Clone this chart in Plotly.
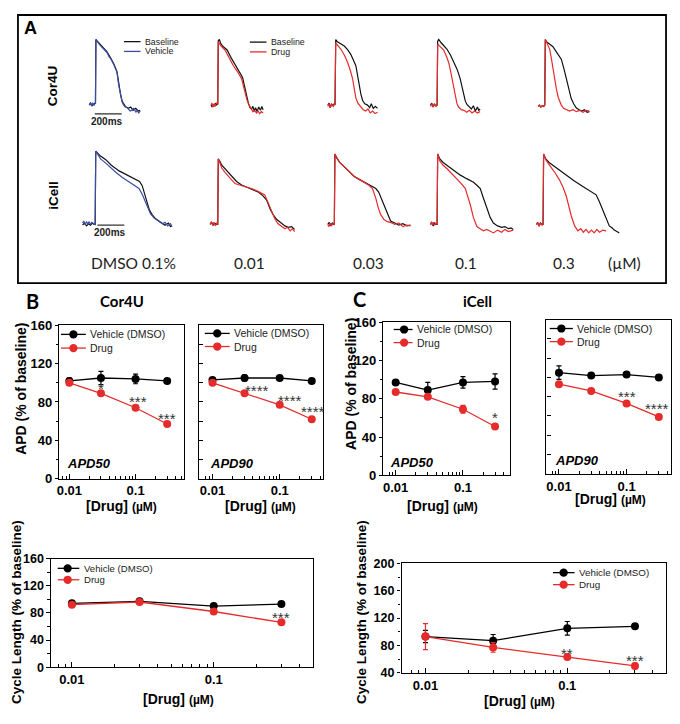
import math
import plotly.graph_objects as go

W, H = 680, 724
OFF = 8                     # page body margin of the html page
FW, FH = W - 2 * OFF, H - 2 * OFF
def px(x): return min(max((x - OFF) / FW, 0), 1)
def py(y): return min(max(1 - (y - OFF) / FH, 0), 1)

ARIAL = "Liberation Sans, Arial, sans-serif"
CAL = "Lato, Carlito, Calibri, sans-serif"
RED = "#e52b2b"
BLUE = "#3a4da3"
BLACK = "#111111"

# ---------------- data: summary panels ----------------
conc = [0.01, 0.03, 0.1, 0.3]

b50_veh = [102, 105, 104, 102]; b50_veh_err = [3, 7, 5, 2]
b50_drug = [100, 89, 74, 57];   b50_drug_err = [2, 2, 2, 2]
b90_veh = [103, 105, 105, 102]; b90_veh_err = [2, 3, 2, 2]
b90_drug = [100, 89, 77, 62];   b90_drug_err = [2, 2, 2, 2]
c50_veh = [97, 89, 97, 98];     c50_veh_err = [2, 8, 6, 8]
c50_drug = [87, 82, 69, 51];    c50_drug_err = [2, 2, 4, 2]
c90_veh = [105, 102, 103, 100]; c90_veh_err = [7, 2, 2, 2]
c90_drug = [93, 86, 73, 59];    c90_drug_err = [2, 2, 2, 2]
bcl_veh = [94, 97, 90, 93];     bcl_veh_err = [2, 2, 2, 2]
bcl_drug = [92, 96, 82, 66];    bcl_drug_err = [2, 2, 2, 2]
ccl_veh = [93, 87, 105, 108];   ccl_veh_err = [9, 9, 10, 3]
ccl_drug = [93, 77, 63, 50];    ccl_drug_err = [19, 7, 3, 4]

# significance marks: (concentration, y value, text)
b50_stars = [(0.03, 97, "*"), (0.1, 84, "***"), (0.3, 66, "***")]
b90_stars = [(0.03, 95, "****"), (0.1, 85, "****"), (0.3, 73, "****")]
c50_stars = [(0.3, 63, "*")]
c90_stars = [(0.1, 83, "***"), (0.3, 71, "****")]
bcl_stars = [(0.3, 77, "***")]
ccl_stars = [(0.1, 73, "**"), (0.3, 63, "***")]

# ---------------- data: action potential traces (ms, % amplitude) ----------------
cor_dmso_base = [(-46,0),(-36,3),(-26,-1),(-14,2),(-3,3),(0,3),(3,100),(12,98),(40,91),(86,81),(115,71),(136,63),(160,51),(173,31),(186,17),(198,6),(222,-2),(245,-5),(262,-3),(280,-8),(300,-5),(318,-9),(333,-8)]
cor_dmso_veh = [(-46,0),(-38,4),(-30,-1),(-20,3),(-10,0),(-2,4),(0,4),(3,100),(12,97),(40,90),(60,86),(86,80),(100,74),(115,70),(136,62),(160,50),(173,30),(186,16),(198,5),(210,0),(222,-3),(235,-4),(245,-6),(258,-9),(271,-8),(282,-5),(290,-6),(300,-11),(310,-8),(322,-12),(333,-9)]
cor_001_base = [(-50,0),(-42,-3),(-35,1),(-27,-2),(-18,3),(-8,0),(0,2),(4,98),(12,100),(20,95),(35,90),(70,84),(100,72),(130,62),(160,52),(185,42),(198,30),(212,15),(228,3),(240,-4),(251,-6),(262,-2),(272,-9),(282,-4),(292,-10),(305,-3),(318,-8),(328,-2),(338,-7)]
cor_001_drug = [(-50,0),(-43,3),(-36,-3),(-28,2),(-20,-2),(-10,3),(0,2),(4,97),(12,94),(25,90),(54,84),(85,72),(116,60),(150,50),(178,40),(192,28),(202,20),(220,6),(239,-2),(250,-7),(262,-10),(276,-9),(290,-12),(300,-9),(312,-13),(325,-10),(338,-12)]
cor_003_base = [(-54,0),(-44,3),(-36,-4),(-26,2),(-15,-1),(-5,2),(0,0),(5,100),(15,97),(35,94),(69,90),(95,84),(118,77),(138,68),(155,60),(168,45),(180,30),(192,17),(205,7),(222,2),(242,0),(258,-4),(270,2),(285,-5),(300,-2),(316,-5)]
cor_003_drug = [(-54,-2),(-45,2),(-36,-4),(-25,1),(-12,-2),(-5,2),(0,0),(5,95),(15,92),(44,85),(70,76),(94,65),(115,52),(131,40),(143,25),(155,11),(170,3),(192,-3),(210,-7),(228,-9),(245,-6),(262,-12),(280,-9),(298,-13),(316,-11)]
cor_01_base = [(-49,0),(-40,3),(-30,-3),(-20,2),(-10,-1),(0,0),(4,97),(12,100),(30,95),(50,91),(74,85),(100,76),(123,67),(150,54),(172,40),(185,27),(197,15),(210,6),(222,1),(240,-3),(255,-6),(270,-1),(285,-9),(300,-3),(310,-8),(320,-6)]
cor_01_drug = [(-49,-2),(-40,2),(-30,-3),(-18,1),(-8,-2),(0,0),(4,93),(15,91),(30,88),(49,84),(70,74),(86,65),(100,52),(111,40),(123,24),(135,10),(148,2),(160,-3),(180,-7),(200,-8),(220,-11),(240,-8),(260,-12),(280,-9),(300,-12),(320,-10)]
cor_03_base = [(-49,-2),(-40,0),(-30,-3),(-18,-1),(-8,-2),(0,0),(4,100),(15,96),(35,93),(61,89),(90,80),(123,70),(142,56),(160,40),(178,24),(197,10),(215,2),(234,-4),(255,-7),(275,-9),(295,-7),(315,-11),(333,-10)]
cor_03_drug = [(-49,-2),(-40,0),(-30,-3),(-18,-1),(-8,-2),(0,0),(4,100),(15,94),(37,85),(50,70),(61,55),(73,40),(86,25),(100,12),(112,4),(123,0),(140,-5),(160,-7),(185,-9),(210,-7),(235,-10),(260,-8),(285,-11),(310,-8),(333,-9)]

ic_dmso_base = [(-94,-1),(-80,2),(-65,-2),(-50,1),(-35,-1),(-20,2),(-8,0),(0,0),(4,104),(20,101),(40,97),(79,92),(120,84),(178,76),(240,70),(301,65),(330,61),(350,55),(365,44),(387,31),(405,20),(424,14),(450,8),(474,5),(498,3),(520,-1),(545,2),(560,-3),(572,-2)]
ic_dmso_veh = [(-94,2),(-85,5),(-75,0),(-65,4),(-55,1),(-45,4),(-35,0),(-25,3),(-12,1),(0,0),(4,104),(15,100),(40,93),(79,87),(115,80),(153,74),(200,67),(252,60),(290,56),(326,51),(350,43),(375,32),(395,22),(412,15),(440,9),(474,4),(500,1),(520,3),(540,-2),(560,1),(572,-3)]
ic_001_base = [(-57,0),(-45,3),(-35,-1),(-22,2),(-10,0),(0,0),(4,93),(15,90),(30,84),(54,79),(100,68),(140,61),(178,56),(240,51),(301,46),(335,41),(363,35),(390,22),(412,14),(440,7),(474,2),(500,-2),(525,-4),(550,-3),(572,-7)]
ic_001_drug = [(-57,0),(-48,4),(-38,-1),(-28,3),(-18,-2),(-8,2),(0,0),(4,93),(15,88),(30,80),(54,74),(90,66),(128,58),(180,55),(252,51),(300,47),(350,42),(375,31),(400,18),(425,8),(449,1),(475,-3),(500,-6),(520,-4),(540,-9),(556,-6),(572,-10)]
ic_003_base = [(-49,0),(-38,3),(-28,-2),(-15,2),(-5,0),(0,0),(4,100),(15,95),(40,88),(74,82),(110,75),(148,68),(185,64),(222,60),(260,56),(309,51),(330,46),(345,39),(365,30),(382,21),(400,12),(419,5),(450,2),(480,-1),(510,1),(540,-2),(567,-1)]
ic_003_drug = [(-49,0),(-40,-3),(-32,2),(-22,-2),(-12,1),(0,0),(4,100),(15,96),(40,88),(74,82),(110,75),(148,68),(185,64),(222,60),(255,56),(284,51),(298,44),(309,37),(325,25),(345,14),(370,7),(395,4),(419,3),(450,0),(480,2),(510,-3),(540,-1),(567,-2)]
ic_01_base = [(-49,0),(-40,3),(-30,-2),(-20,2),(-8,0),(0,0),(4,100),(20,93),(45,88),(74,84),(120,77),(173,70),(220,65),(271,60),(300,55),(321,51),(340,40),(355,31),(370,23),(395,10),(419,2),(450,-2),(480,-4),(505,-3),(530,-6),(550,-5),(567,-7)]
ic_01_drug = [(-49,0),(-42,4),(-35,-1),(-28,3),(-18,-1),(-8,2),(0,0),(4,100),(20,90),(45,84),(74,79),(110,72),(148,65),(180,58),(210,51),(230,40),(247,28),(270,10),(296,-3),(320,-6),(345,-9),(370,-7),(395,-10),(420,-12),(450,-8),(480,-11),(505,-7),(530,-10),(567,-8)]
ic_03_base = [(-49,0),(-40,3),(-30,-2),(-20,2),(-8,0),(0,0),(4,100),(20,93),(45,88),(74,84),(120,77),(173,70),(230,62),(296,54),(340,49),(370,46),(395,42),(420,32),(444,21),(470,8),(493,-2),(515,-5),(530,-8),(550,-10),(567,-12)]
ic_03_drug = [(-49,0),(-40,3),(-30,-3),(-20,2),(-8,-1),(0,0),(4,100),(20,92),(45,85),(62,81),(90,73),(123,63),(150,52),(173,40),(192,25),(210,12),(235,-2),(259,-9),(280,-6),(300,-11),(320,-7),(340,-12),(360,-8),(380,-12),(400,-7),(420,-11),(445,-8),(469,-9)]

dose_labels = ["DMSO 0.1%", "0.01", "0.03", "0.1", "0.3"]
scale_bar_ms = 200

fig = go.Figure()
layout = dict(width=FW, height=FH, margin=dict(l=0, r=0, t=0, b=0),
              paper_bgcolor="white", plot_bgcolor="white", showlegend=False)
annotations = []
shapes = []

def ann(x, y, text, size, family=ARIAL, color="black", rot=0, xanchor="center", yanchor="middle", **kw):
    annotations.append(dict(x=px(x), y=py(y), xref="paper", yref="paper", text=text,
                            showarrow=False, textangle=rot, xanchor=xanchor, yanchor=yanchor,
                            font=dict(family=family, size=size, color=color), **kw))

# ---------------- Panel A: traces ----------------
rows = [
    dict(ytop=26.3, ybot=123.5, ups=[93, 216, 334, 436.7, 545],
         traces=[(cor_dmso_base, cor_dmso_veh), (cor_001_base, cor_001_drug), (cor_003_base, cor_003_drug),
                 (cor_01_base, cor_01_drug), (cor_03_base, cor_03_drug)],
         bar_y=-13.4, bar_x0=-5, txt_x=89, txt_y=-25),
    dict(ytop=142.8, ybot=247.2, ups=[92.7, 216, 333.3, 436.7, 543.3],
         traces=[(ic_dmso_base, ic_dmso_veh), (ic_001_base, ic_001_drug), (ic_003_base, ic_003_drug),
                 (ic_01_base, ic_01_drug), (ic_03_base, ic_03_drug)],
         bar_y=-1, bar_x0=17, txt_x=113, txt_y=-12),
]
MS_PER_PX = 7.4
TRANGE = (-100, 600)
ax_n = 7
for row in rows:
    for j, (up, (base, treat)) in enumerate(zip(row["ups"], row["traces"])):
        left = up + TRANGE[0] / MS_PER_PX
        right = left + (TRANGE[1] - TRANGE[0]) / MS_PER_PX
        xa, ya = f"xaxis{ax_n}", f"yaxis{ax_n}"
        layout[xa] = dict(domain=[px(left), px(right)], range=list(TRANGE), visible=False,
                          anchor=f"y{ax_n}", fixedrange=True)
        layout[ya] = dict(domain=[py(row["ybot"]), py(row["ytop"])], range=[-35, 110], visible=False,
                          anchor=f"x{ax_n}", fixedrange=True)
        col = BLUE if j == 0 else RED
        for data, c in ((base, BLACK), (treat, col)):
            fig.add_trace(go.Scatter(x=[p[0] for p in data], y=[p[1] for p in data], mode="lines",
                                     line=dict(color=c, width=1.2), xaxis=f"x{ax_n}", yaxis=f"y{ax_n}",
                                     hoverinfo="skip"))
        if j == 0:
            fig.add_trace(go.Scatter(x=[row["bar_x0"], row["bar_x0"] + scale_bar_ms],
                                     y=[row["bar_y"], row["bar_y"]], mode="lines",
                                     line=dict(color="#333", width=1.3),
                                     xaxis=f"x{ax_n}", yaxis=f"y{ax_n}", hoverinfo="skip"))
            annotations.append(dict(x=row["txt_x"], y=row["txt_y"], xref=f"x{ax_n}", yref=f"y{ax_n}",
                                    text=f"<b>{scale_bar_ms}ms</b>", showarrow=False,
                                    font=dict(family=ARIAL, size=10, color="#222")))
        ax_n += 1

# legends drawn as small samples
def mini_legend(x0, x1, xt, ys, labels, colors, size, marker=False, xm=None):
    for y, lab, c in zip(ys, labels, colors):
        shapes.append(dict(type="line", xref="paper", yref="paper", x0=px(x0), x1=px(x1),
                           y0=py(y), y1=py(y), line=dict(color=c, width=1.3)))
        if marker:
            r = 4.2
            shapes.append(dict(type="circle", xref="paper", yref="paper", x0=px(xm - r), x1=px(xm + r),
                               y0=py(y + r), y1=py(y - r), fillcolor=c, line=dict(width=0)))
        ann(xt, y, lab, size, color="#222", xanchor="left")

mini_legend(121.7, 138.3, 141, [35.2, 45.2], ["Baseline", "Vehicle"], [BLACK, BLUE], 8.8)
mini_legend(248.3, 265, 267.5, [35.7, 45.7], ["Baseline", "Drug"], [BLACK, RED], 8.8)

# panel A box & labels
shapes.append(dict(type="rect", xref="paper", yref="paper", x0=px(15), x1=px(667), y0=py(282), y1=py(7),
                   line=dict(color="black", width=1.8)))
ann(28, 21, "<b>A</b>", 18)
ann(50, 80, "<b>Cor4U</b>", 13.5, rot=-90)
ann(50, 192, "<b>iCell</b>", 13.5, rot=-90)
for lab, x in zip(dose_labels, [131.7, 248.3, 367.7, 465.7, 564]):
    ann(x, 261.7, lab, 15.5, family=CAL, color="#222")
ann(625, 261.7, "(µM)", 15.5, family=CAL, color="#222")

# ---------------- summary panels ----------------
minor_x = [0.008, 0.009, 0.02, 0.03, 0.04, 0.05, 0.06, 0.07, 0.08, 0.09, 0.2, 0.3, 0.4, 0.5]
panels = [
    dict(x=(56.7, 181.7), y=(325, 481.7), xr=(-2.15, -0.274), yr=(0, 160), lab=True, fs=13,
         veh=(b50_veh, b50_veh_err), drug=(b50_drug, b50_drug_err), stars=b50_stars, sx=[0, 2, 0],
         leg=(58.3, 83.3, 70.8, 85, [334.3, 348.3], 10.5), name=("APD50", 86.7, 466.7)),
    dict(x=(197, 322), y=(325, 481.7), xr=(-2.203, -0.354), yr=(0, 160), lab=False, fs=13,
         veh=(b90_veh, b90_veh_err), drug=(b90_drug, b90_drug_err), stars=b90_stars, sx=[12, 10, 1],
         leg=(203, 228, 215.5, 230, [333.3, 346.7], 10.5), name=("APD90", 230, 466.7)),
    dict(x=(382.7, 510), y=(321.7, 478.3), xr=(-2.182, -0.301), yr=(0, 160), lab=True, fs=13,
         veh=(c50_veh, c50_veh_err), drug=(c50_drug, c50_drug_err), stars=c50_stars, sx=[0],
         leg=(393, 412, 403.5, 414, [329.3, 342.7], 10.5), name=("APD50", 411.7, 465)),
    dict(x=(546.7, 671.5), y=(319.3, 476.7), xr=(-2.185, -0.35), yr=(0, 160), lab=False, fs=13,
         veh=(c90_veh, c90_veh_err), drug=(c90_drug, c90_drug_err), stars=c90_stars, sx=[0, -2],
         leg=(550, 573.3, 561.7, 575, [328.3, 341.7], 10.5), name=("APD90", 577.5, 463.3)),
    dict(x=(48.3, 311.7), y=(563.3, 674.3), xr=(-2.147, -0.301), yr=(0, 160), lab=True, fs=12.5,
         veh=(bcl_veh, bcl_veh_err), drug=(bcl_drug, bcl_drug_err), stars=bcl_stars, sx=[0],
         leg=(55, 76.7, 65, 79, [573.3, 585], 9.6), name=None),
    dict(x=(401, 666.7), y=(568.3, 680), xr=(-2.168, -0.306), yr=(40, 200), lab=True, fs=12.5,
         veh=(ccl_veh, ccl_veh_err), drug=(ccl_drug, ccl_drug_err), stars=ccl_stars, sx=[0, 0],
         leg=(553.3, 575, 564, 577.3, [577.7, 590], 9.8), name=None),
]

for i, p in enumerate(panels, start=1):
    sfx = "" if i == 1 else str(i)
    lo, hi = p["yr"]
    major = list(range(lo, hi + 1, 40))
    minor = list(range(lo + 20, hi, 40))
    xaxis = dict(domain=[px(p["x"][0]), px(p["x"][1])], type="log", range=list(p["xr"]),
                 anchor=f"y{sfx}", showline=True, mirror=True, linecolor="black", linewidth=1.3,
                 showgrid=False, zeroline=False, ticks="inside", ticklen=5, tickwidth=1.2, tickcolor="black",
                 tickmode="array", tickvals=[0.01, 0.1], ticktext=["<b>0.01</b>", "<b>0.1</b>"],
                 tickfont=dict(family=ARIAL, size=max(p["fs"], 13), color="black"),
                 minor=dict(tickmode="array", tickvals=minor_x, ticks="inside", ticklen=3,
                            tickwidth=1, tickcolor="black"),
                 fixedrange=True)
    if p["lab"]:
        yaxis = dict(tickmode="array", tickvals=major, ticktext=[f"<b>{v}</b>" for v in major],
                     ticks="outside", ticklen=3.5, tickwidth=1.2, tickcolor="black",
                     tickfont=dict(family=ARIAL, size=p["fs"], color="black"),
                     minor=dict(tickmode="array", tickvals=minor, ticks="outside", ticklen=2.5,
                                tickwidth=1, tickcolor="black"))
    else:
        yaxis = dict(tickmode="array", tickvals=list(range(lo, hi + 1, 20)), showticklabels=False,
                     ticks="inside", ticklen=4, tickwidth=1.1, tickcolor="black")
    yaxis.update(domain=[py(p["y"][1]), py(p["y"][0])], range=list(p["yr"]), anchor=f"x{sfx}",
                 showline=True, mirror=True, linecolor="black", linewidth=1.3, showgrid=False,
                 zeroline=False, fixedrange=True)
    layout[f"xaxis{sfx}"] = xaxis
    layout[f"yaxis{sfx}"] = yaxis
    for (vals, errs), c in ((p["veh"], "black"), (p["drug"], RED)):
        fig.add_trace(go.Scatter(x=conc, y=vals, mode="lines+markers",
                                 error_y=dict(type="data", array=errs, color=c, thickness=1.2, width=2.5),
                                 line=dict(color=c, width=1.3), marker=dict(size=8, color=c),
                                 xaxis=f"x{sfx}", yaxis=f"y{sfx}", cliponaxis=False))
    for (cx, cy, t), sx in zip(p["stars"], p["sx"]):
        annotations.append(dict(x=math.log10(cx), y=cy, xref=f"x{sfx}", yref=f"y{sfx}", text=t,
                                showarrow=False, xshift=sx, yshift=-3,
                                font=dict(family=ARIAL, size=15, color="#333")))
    x0, x1, xm, xt, ys, fsz = p["leg"]
    mini_legend(x0, x1, xt, ys, ["Vehicle (DMSO)", "Drug"], ["black", RED], fsz, marker=True, xm=xm)
    if p["name"]:
        nm, nx, ny = p["name"]
        ann(nx, ny, f"<b><i>{nm}</i></b>", 13)

# axis titles and panel labels
drug_t = "<b>[Drug]</b> <b><span style='font-size:12px'>(µM)</span></b>"
ann(119, 510, drug_t, 14)
ann(259, 510, drug_t, 14)
ann(442, 510, drug_t, 14)
ann(611, 502, drug_t, 14)
ann(176.7, 706.7, drug_t, 14)
ann(520, 709, drug_t, 14)
ann(18, 390, "<b>APD (% of baseline)</b>", 14, rot=-90)
ann(350, 385, "<b>APD (% of baseline)</b>", 14, rot=-90)
ann(13, 618, "<b>Cycle Length (% of baseline)</b>", 13.5, rot=-90)
ann(360, 618, "<b>Cycle Length (% of baseline)</b>", 13.5, rot=-90)
ann(30, 300, "<b>B</b>", 20, family=CAL)
ann(120, 300.7, "<b>Cor4U</b>", 15, family=CAL)
ann(359, 298, "<b>C</b>", 20, family=CAL)
ann(477, 300.7, "<b>iCell</b>", 15, family=CAL)

layout["annotations"] = annotations
layout["shapes"] = shapes
fig.update_layout(**layout)
fig.write_html("out.html")
